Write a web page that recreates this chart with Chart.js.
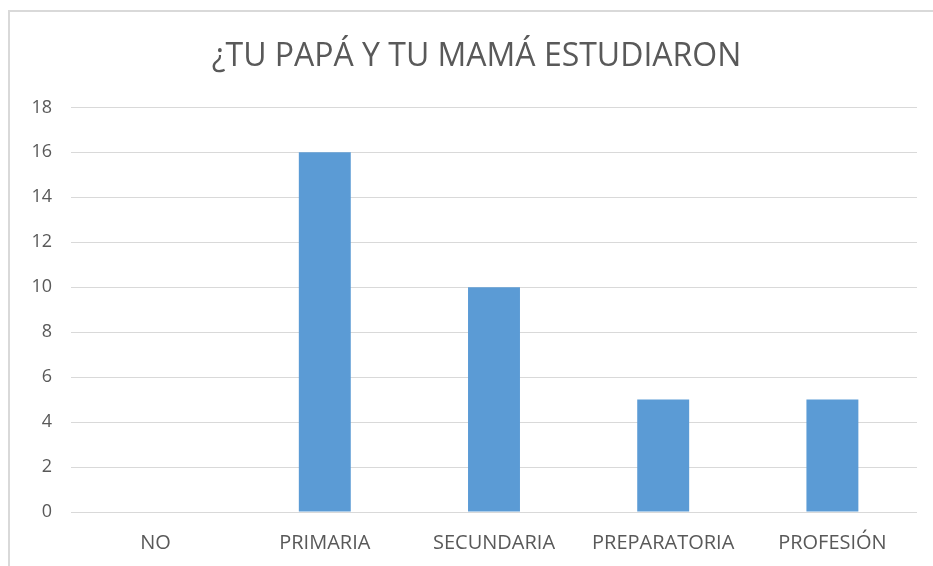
<!DOCTYPE html>
<html>
<head>
<meta charset="utf-8">
<script src="https://cdn.jsdelivr.net/npm/chart.js@4"></script>
<style>
  html, body { margin: 0; padding: 0; background: #fff; overflow: hidden; }
  #frame {
    position: absolute; left: 8px; top: 10px; width: 1000px; height: 700px;
    border-left: 2px solid #d9d9d9; border-top: 2px solid #d9d9d9;
  }
  #wrap { position: absolute; left: 0; top: 0; width: 933px; height: 566px; }
</style>
</head>
<body>
<div id="frame"></div>
<div id="wrap"><canvas id="chart"></canvas></div>
<script>
const titleText = '¿TU PAPÁ Y TU MAMÁ ESTUDIARON';
const categories = ['NO', 'PRIMARIA', 'SECUNDARIA', 'PREPARATORIA', 'PROFESIÓN'];
const values = [0, 16, 10, 5, 5];
const yTicks = [0, 2, 4, 6, 8, 10, 12, 14, 16, 18];

const barColor = '#5b9bd5';
const gridColor = '#d9d9d9';
const textColor = '#595959';

// title sits a bit right of the canvas centre in the original
const titleShift = {
    id: 'titleShift',
    afterLayout: (chart) => {
        if (chart.titleBlock) {
            chart.titleBlock.left += 36;
        }
    }
};

const chartConfig = {
    type: 'bar',
    data: {
        labels: categories,
        datasets: [{
            label: 'Serie 1',
            data: values,
            backgroundColor: barColor,
            borderWidth: 0,
            categoryPercentage: 1,
            barPercentage: 0.307
        }]
    },
    options: {
        responsive: true,
        maintainAspectRatio: false,
        animation: false,
        layout: {padding: {left: 0, right: 16, top: 0, bottom: 0}},
        plugins: {
            legend: {display: false},
            tooltip: {enabled: false},
            title: {
                display: true,
                text: titleText,
                color: textColor,
                font: {family: 'Open Sans', size: 32, weight: 'normal'},
                padding: {top: 38, bottom: 31}
            }
        },
        scales: {
            y: {
                min: 0,
                max: 18,
                afterBuildTicks: (axis) => {
                    axis.ticks = yTicks.map(v => ({value: v}));
                },
                afterFit: (axis) => { axis.width = 71; },
                grid: {color: gridColor, lineWidth: 1, drawTicks: false},
                border: {display: false},
                ticks: {
                    color: textColor,
                    padding: 19,
                    font: {family: 'Open Sans', size: 18}
                }
            },
            x: {
                afterFit: (axis) => { axis.height = 54; },
                grid: {display: false, drawTicks: false},
                border: {display: false},
                ticks: {
                    color: textColor,
                    padding: 19,
                    maxRotation: 0,
                    font: {family: 'Open Sans', size: 20}
                }
            }
        }
    },
    plugins: [titleShift]
};

new Chart(document.getElementById('chart'), chartConfig);
</script>
</body>
</html>
